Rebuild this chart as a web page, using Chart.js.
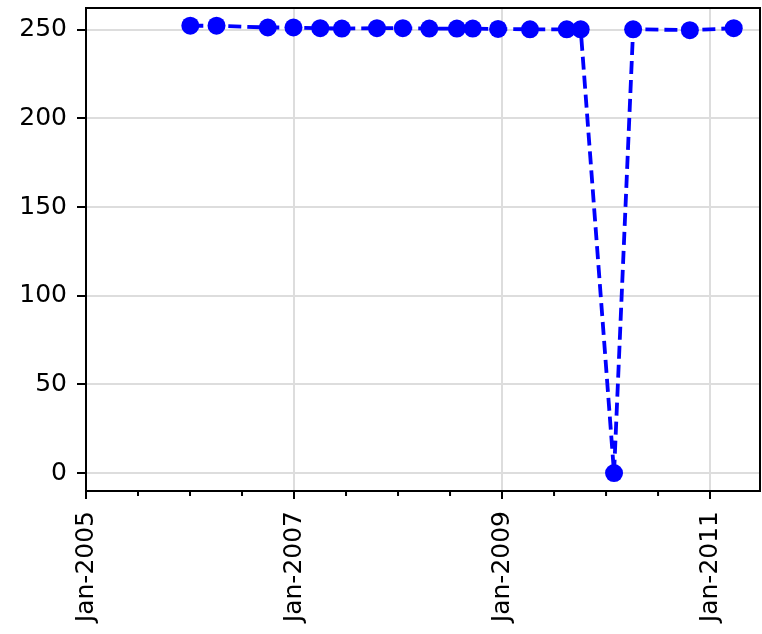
<!DOCTYPE html>
<html>
<head>
<meta charset="utf-8">
<script src="https://cdn.jsdelivr.net/npm/chart.js@4"></script>
<style>
  body { margin: 0; background: #fff; }
  #wrap { width: 762px; height: 634px; }
</style>
</head>
<body>
<div id="wrap"><canvas id="grafico"></canvas></div>
<script>
// Dados
const datas = ['2006-01-02', '2006-04-04', '2006-10-01', '2006-12-30', '2007-04-03', '2007-06-18',
  '2007-10-19', '2008-01-18', '2008-04-20', '2008-07-26', '2008-09-20', '2008-12-18',
  '2009-04-09', '2009-08-16', '2009-10-04', '2010-01-29', '2010-04-06', '2010-10-22', '2011-03-25'];
const valores = [252.3, 252.3, 251.3, 251.3, 250.9, 250.7, 250.9, 250.9, 250.7, 250.7, 250.7, 250.5,
  250.3, 250.3, 250.3, 0, 250.3, 249.8, 250.9];
const anosMaiores = [2005, 2007, 2009, 2011];
const anosMenores = [2005.5, 2006, 2006.5, 2007.5, 2008, 2008.5, 2009.5, 2010, 2010.5, 2011.5];
const yTicks = [0, 50, 100, 150, 200, 250];

// data -> ano fracionado
function anoDecimal(s) {
  const d = new Date(s + 'T00:00:00Z');
  const y = d.getUTCFullYear();
  const ini = Date.UTC(y, 0, 1), fim = Date.UTC(y + 1, 0, 1);
  return y + (d - ini) / (fim - ini);
}
const pontos = datas.map((s, i) => ({ x: anoDecimal(s), y: valores[i] }));

// moldura e ticks menores
const moldura = {
  id: 'moldura',
  afterDraw(chart) {
    const { ctx, chartArea: a, scales: { x } } = chart;
    ctx.save();
    ctx.strokeStyle = '#000';
    ctx.lineWidth = 2;
    ctx.beginPath();
    ctx.moveTo(a.left, a.top); ctx.lineTo(a.right, a.top); ctx.lineTo(a.right, a.bottom);
    anosMenores.forEach(v => {
      const px = x.getPixelForValue(v);
      if (px <= a.right + 1) { ctx.moveTo(px, a.bottom); ctx.lineTo(px, a.bottom + 5); }
    });
    ctx.stroke();
    ctx.restore();
  }
};

const fonte = { family: 'DejaVu Sans', size: 25 };

new Chart(document.getElementById('grafico'), {
  type: 'line',
  data: {
    datasets: [{
      data: pontos,
      borderColor: '#0000ff',
      backgroundColor: '#0000ff',
      borderWidth: 3.8,
      borderDash: [13, 6],
      pointRadius: 9,
      pointHoverRadius: 9,
      pointBorderWidth: 0,
      tension: 0
    }]
  },
  options: {
    responsive: true,
    maintainAspectRatio: false,
    animation: false,
    layout: { autoPadding: false, padding: { top: 8, right: 2, left: 0, bottom: 0 } },
    plugins: { legend: { display: false }, tooltip: { enabled: false } },
    scales: {
      x: {
        type: 'linear',
        min: 2005,
        max: 2011.48,
        afterBuildTicks: s => { s.ticks = anosMaiores.map(v => ({ value: v })); },
        afterFit: s => { s.height = 143; s.paddingLeft = 0; s.paddingRight = 0; },
        ticks: {
          autoSkip: false,
          minRotation: 90,
          maxRotation: 90,
          padding: 12,
          color: '#000',
          font: fonte,
          callback: v => 'Jan-' + v
        },
        grid: { color: '#dddddd', lineWidth: 2, tickLength: 8, tickColor: '#000', tickWidth: 2 },
        border: { color: '#000', width: 2 }
      },
      y: {
        min: -10.1,
        max: 262.3,
        afterBuildTicks: s => { s.ticks = yTicks.map(v => ({ value: v })); },
        afterFit: s => { s.width = 86; s.paddingTop = 0; s.paddingBottom = 0; },
        ticks: { padding: 10, color: '#000', font: fonte },
        grid: { color: '#dddddd', lineWidth: 2, tickLength: 9, tickColor: '#000', tickWidth: 2 },
        border: { color: '#000', width: 2 }
      }
    }
  },
  plugins: [moldura]
});
</script>
</body>
</html>
